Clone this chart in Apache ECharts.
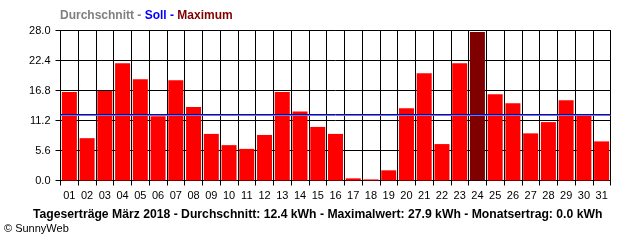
<!DOCTYPE html>
<html>
<head>
<meta charset="utf-8">
<script src="https://cdn.jsdelivr.net/npm/echarts@6/dist/echarts.min.js"></script>
<style>
html,body{margin:0;padding:0;background:#fff;}
#c{width:640px;height:240px;}
</style>
</head>
<body>
<div id="c"></div>
<script>
var days = ['01','02','03','04','05','06','07','08','09','10','11','12','13','14','15','16','17','18','19','20','21','22','23','24','25','26','27','28','29','30','31'];
var yields = [16.5, 7.9, 16.7, 21.9, 18.9, 12.0, 18.7, 13.7, 8.7, 6.6, 5.9, 8.5, 16.5, 12.9, 10.0, 8.7, 0.4, 0.2, 1.9, 13.5, 20.0, 6.8, 21.9, 27.7, 16.1, 14.4, 8.8, 10.9, 15.0, 12.3, 7.3];
var averageValue = 12.25;
var targetValue = 12.42;
var yTicks = [0, 5.6, 11.2, 16.8, 22.4, 28.0];
var legendParts = ['Durchschnitt - ', 'Soll - ', 'Maximum'];
var bottomTitle = 'Tageserträge März 2018 - Durchschnitt: 12.4 kWh - Maximalwert: 27.9 kWh - Monatsertrag: 0.0 kWh';
var copyright = '© SunnyWeb';

var maxIdx = 0;
for (var i = 1; i < yields.length; i++) if (yields[i] > yields[maxIdx]) maxIdx = i;
var barData = yields.map(function (v, i) {
  return { value: v, itemStyle: { color: i === maxIdx ? '#800000' : '#ff0000' } };
});

var FONT = '"Liberation Sans", Arial, sans-serif';
var chart = echarts.init(document.getElementById('c'), null, { renderer: 'canvas' });
chart.setOption({
  animation: false,
  backgroundColor: '#ffffff',
  grid: { left: 60.5, right: 29.5, top: 30.5, bottom: 59.5, show: true, borderColor: '#000', borderWidth: 1 },
  graphic: [
    { type: 'text', left: 60, top: 10, style: {
        text: '{a|' + legendParts[0] + '}{b|' + legendParts[1] + '}{c|' + legendParts[2] + '}',
        rich: {
          a: { fill: '#808080', font: 'bold 12px ' + FONT },
          b: { fill: '#0000ff', font: 'bold 12px ' + FONT },
          c: { fill: '#800000', font: 'bold 12px ' + FONT }
        }
    } },
    { type: 'text', left: 33, top: 209, style: { text: bottomTitle, fill: '#000', font: 'bold 12.2px ' + FONT } },
    { type: 'text', left: 4, top: 223, style: { text: copyright, fill: '#000', font: '11px ' + FONT } }
  ],
  xAxis: {
    type: 'category',
    data: days,
    boundaryGap: true,
    axisLine: { show: true, lineStyle: { color: '#000', width: 1 } },
    axisTick: { show: true, length: 5, interval: 0, lineStyle: { color: '#000' } },
    axisLabel: { interval: 0, color: '#000', fontSize: 11, fontFamily: FONT, margin: 10 },
    splitLine: { show: true, interval: 0, lineStyle: { color: '#000', width: 1 } }
  },
  yAxis: {
    type: 'value',
    min: yTicks[0],
    max: yTicks[yTicks.length - 1],
    interval: yTicks[1] - yTicks[0],
    axisLine: { show: true, lineStyle: { color: '#000', width: 1 } },
    axisTick: { show: true, length: 5, lineStyle: { color: '#000' } },
    axisLabel: { color: '#000', fontSize: 11, fontFamily: FONT, margin: 10, formatter: function (v) { return v.toFixed(1); } },
    splitLine: { show: true, lineStyle: { color: '#000', width: 1 } }
  },
  series: [{
    type: 'bar',
    data: barData,
    barWidth: 15,
    silent: true,
    markLine: {
      silent: true,
      symbol: ['none', 'none'],
      label: { show: false },
      data: [
        { yAxis: averageValue, lineStyle: { color: '#808080', width: 1, type: 'solid' } },
        { yAxis: targetValue, lineStyle: { color: '#0000ff', width: 1, type: 'solid' } }
      ]
    }
  }]
});
</script>
</body>
</html>
